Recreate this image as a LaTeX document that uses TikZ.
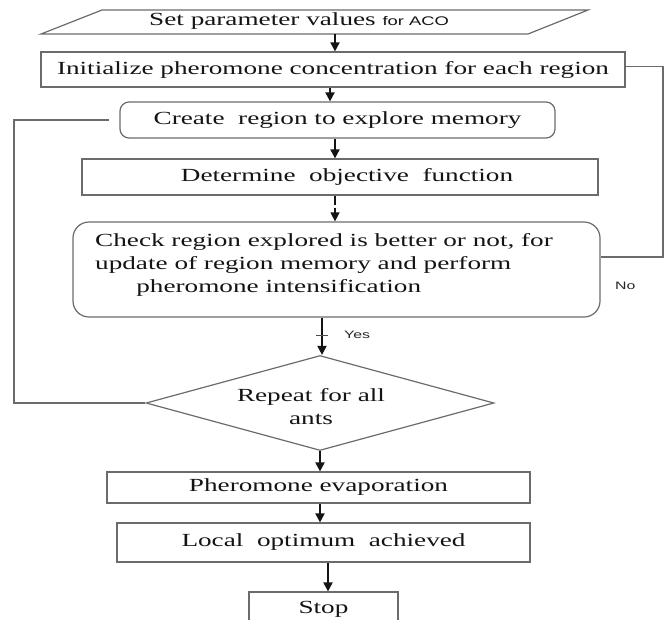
\documentclass[tikz,border=0pt]{standalone}
\usepackage{fontspec}
\setmainfont{Liberation Serif}
\setsansfont{Liberation Sans}
\usepackage{graphicx}
\usetikzlibrary{arrows.meta,shapes.geometric}
\newcommand{\myW}[1]{\scalebox{1.47}[1]{#1}}
\begin{document}
\begin{tikzpicture}[x=1pt,y=-1pt,
  txt/.style={inner sep=0pt, text=black!92, font=\fontsize{18.5}{23}\selectfont},
  box/.style={txt, draw=black!58, line width=1.2pt},
  rbox/.style={box, rounded corners=9pt},
  arr/.style={line width=1.8pt, draw=black!92, -{Triangle[length=9pt,width=9pt]}},
  conn/.style={draw=black!58, line width=1.2pt},
  lbl/.style={inner sep=0pt, text=black!85, font=\sffamily\fontsize{10.8}{12}\selectfont}
]
\useasboundingbox (0,0) rectangle (666,619);
\clip (0,0) rectangle (666,619);

% input parallelogram
\draw[conn] (102,10) -- (588,10) -- (528,34) -- (41,34) -- cycle;
\node[txt, anchor=west] (par) at (149,21) {\myW{Set parameter values {\sffamily\fontsize{12.5}{14}\selectfont for ACO}}};
\coordinate (parbot) at (335,34);

% process boxes
\node[box, minimum width=584pt, minimum height=35pt] (init) at (333,69.5)
  {\myW{Initialize pheromone concentration for each region}};
\node[rbox, minimum width=435pt, minimum height=36pt] (create) at (337.5,120)
  {\myW{Create\ \ region to explore memory}};
\node[box, minimum width=516pt, minimum height=36pt] (determ) at (340,177)
  {\hspace{14pt}\myW{Determine\ \ objective\ \ function}};
\node[rbox, rounded corners=16pt, minimum width=527pt, minimum height=95pt] (check) at (336.5,269.5) {};
\node[txt, anchor=west] (checkt) at (95,265)
  {\myW{\begin{tabular}{@{}l@{}}Check region explored is better or not, for\\
   update of region memory and perform\\
   \hspace{28pt}pheromone intensification\end{tabular}}};
\node[box, shape=diamond, minimum width=348pt, minimum height=95pt] (diam) at (320,403) {};
\node[txt, align=center] (diamt) at (311,407) {\myW{Repeat for all}\\\myW{ants}};
\node[box, minimum width=423pt, minimum height=31pt] (phe) at (318.5,487.5)
  {\myW{Pheromone evaporation}};
\node[box, minimum width=413pt, minimum height=39pt] (local) at (323.5,542.5)
  {\myW{Local\ \ optimum\ \ achieved}};
\node[box, minimum width=149pt, minimum height=34pt] (stop) at (323.5,609)
  {\raisebox{2pt}{\myW{Stop}}};

% main arrows
\draw[arr] (parbot) -- (parbot |- init.north);
\draw[arr] ([xshift=-3pt]init.south) -- ([xshift=-3pt]init.south |- create.north);
\draw[arr] ([xshift=-2.5pt]create.south) -- ([xshift=-2.5pt]create.south |- determ.north);
\draw[arr, line width=1.3pt, dash pattern=on 9pt off 3pt] ([xshift=-5pt]determ.south) -- ([xshift=-5pt]determ.south |- check.north);
\draw[arr] ([xshift=-14.5pt]check.south) -- ([xshift=-14.5pt]check.south |- diam.north);
\coordinate (tickc) at (322,335);
\draw[line width=0.8pt, draw=black!70] ([xshift=-6pt]tickc) -- ([xshift=6pt]tickc);
\node[lbl, anchor=west] (yes) at (344,335) {\myW{Yes}};
\draw[arr] (diam.south) -- (diam.south |- phe.north);
\draw[arr] ([xshift=1.5pt]phe.south) -- ([xshift=1.5pt]phe.south |- local.north);
\draw[arr] ([xshift=4.5pt]local.south) -- ([xshift=4.5pt]local.south |- stop.north);

% loop back from diamond to create
\coordinate (lcorner) at (14,0);
\coordinate (crin) at ([xshift=-10pt]create.west);
\draw[conn] (diam.west) -- (diam.west -| lcorner) -- (crin -| lcorner) -- (crin);

% loop from check to init (No)
\coordinate (rcorner) at (663,0);
\coordinate (initout) at ([yshift=3pt]init.east);
\coordinate (chkin) at ([yshift=12.5pt]check.east);
\draw[conn] (initout) -- (initout -| rcorner) -- (chkin -| rcorner) -- (chkin);
\node[lbl, anchor=west] (no) at (615,286) {\myW{No}};
\end{tikzpicture}
\end{document}
